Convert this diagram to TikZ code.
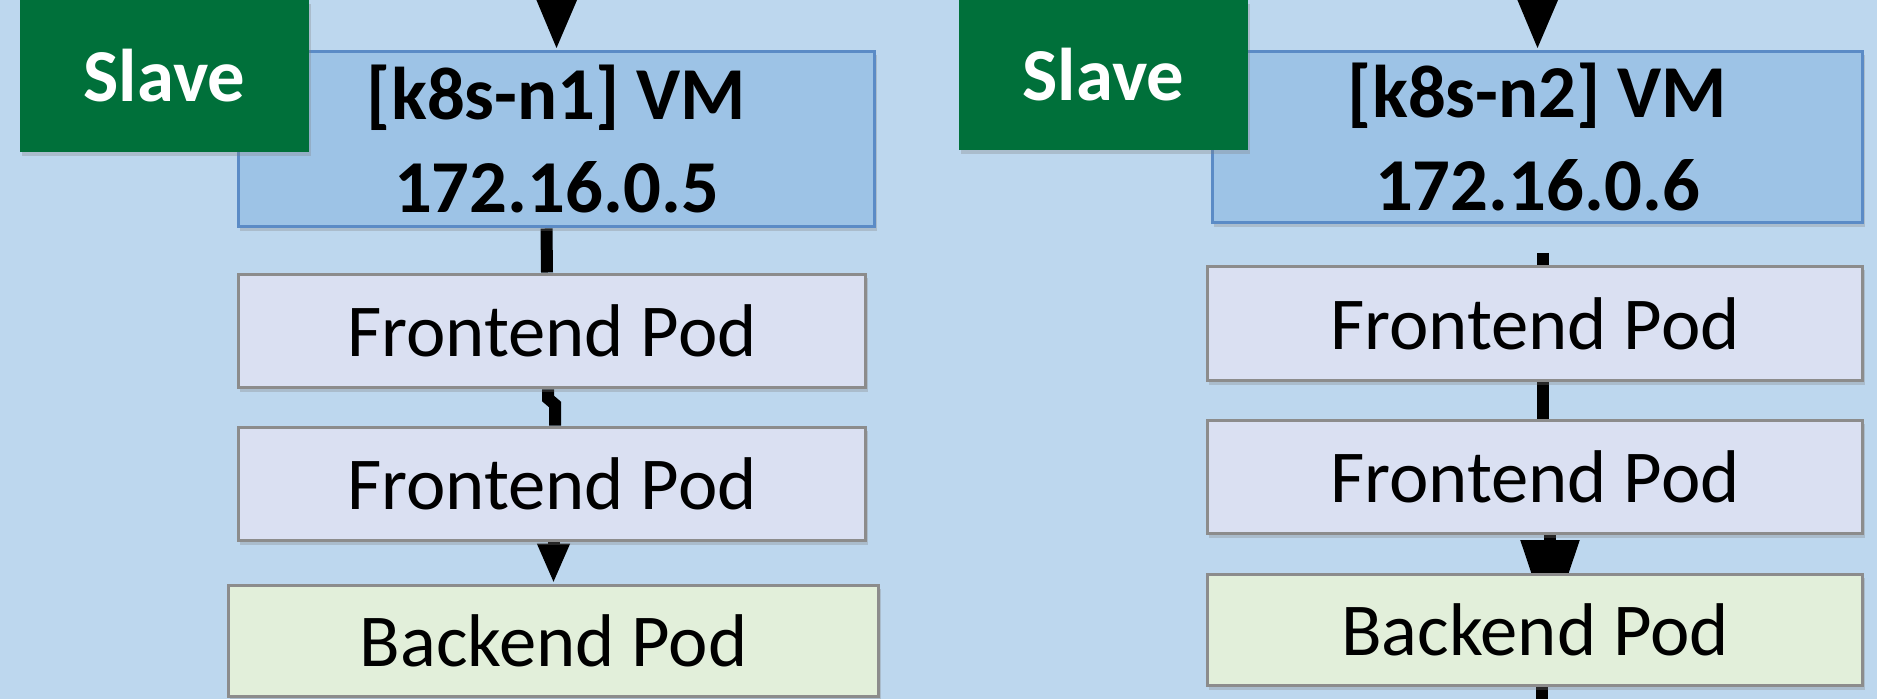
\documentclass[tikz,border=0pt]{standalone}
\usepackage{fontspec}
\setmainfont{Carlito}
\usepackage{tikz}
\usetikzlibrary{arrows.meta}
\usetikzlibrary{shadows}

\definecolor{bgblue}{HTML}{BDD7EE}
\definecolor{vmfill}{HTML}{9DC3E6}
\definecolor{vmline}{HTML}{5B8BC6}
\definecolor{frontfill}{HTML}{DAE0F2}
\definecolor{backfill}{HTML}{E2EFDA}
\definecolor{podline}{HTML}{8C8C8C}
\definecolor{slavegreen}{HTML}{00703A}

\pgfdeclarelayer{bg}
\pgfsetlayers{bg,main}

\begin{document}
\begin{tikzpicture}[
	  x=0.02cm, y=-0.02cm,
	  every node/.style = {shape=rectangle, draw, align=center, inner sep=0pt, line width=0.06cm, font=\fontsize{42.5}{52}\selectfont, drop shadow={shadow xshift=1pt, shadow yshift=-2.5pt, opacity=0.3}},
	  vmbox/.style={fill=vmfill, draw=vmline, font=\fontsize{42.5}{53}\selectfont\bfseries},
	  frontbox/.style={fill=frontfill, draw=podline, minimum width=12.56cm, minimum height=2.28cm},
	  backbox/.style={fill=backfill, draw=podline, minimum height=2.24cm},
	  slavebox/.style={fill=slavegreen, draw=none, text=white, minimum width=5.78cm, font=\fontsize{42.5}{52}\selectfont\bfseries},
	  link/.style={draw=black, line width=0.24cm}
	]
	\useasboundingbox (0,0) rectangle (1877,699);

	\node[vmbox, minimum width=12.74cm, minimum height=3.52cm] (lvm) at (556.5,139) {[k8s-n1] VM\\172.16.0.5};
	\node[slavebox, minimum height=3.04cm] (lslave) at (164.5,76) {Slave};
	\node[frontbox] (lfe1) at (552,331) {Frontend Pod};
	\node[frontbox] (lfe2) at (552,484) {Frontend Pod};
	\node[backbox, minimum width=13.02cm] (lbe) at (553.5,641) {Backend Pod};

	\node[vmbox, minimum width=13.02cm, minimum height=3.44cm] (rvm) at (1537.5,137) {[k8s-n2] VM\\172.16.0.6};
	\node[slavebox, minimum height=3cm] (rslave) at (1103.5,75) {Slave};
	\node[frontbox, minimum width=13.12cm, minimum height=2.3cm] (rfe1) at (1535,323.5) {Frontend Pod};
	\node[frontbox, minimum width=13.12cm] (rfe2) at (1535,477) {Frontend Pod};
	\node[backbox, minimum width=13.12cm] (rbe) at (1535,630) {Backend Pod};

	\coordinate (lin) at (557,-80);
	\coordinate (rin) at (1538,-80);
	\coordinate (rgap) at (1543,253);
	\coordinate (rout) at (1542,740);

	\begin{pgfonlayer}{bg}
	  \fill[bgblue] (0,0) rectangle (1877,699);
	  \draw[link, -{Triangle[width=0.88cm, length=1.16cm]}] (lin) -- (lvm.north);
	  \draw[link] ([shift={(-10,0)}]lvm.south) -- ([shift={(-5,0)}]lfe1.north);
	  \draw[link] ([shift={(-4,0)}]lfe1.south) -- ++(0,9) -- ++(7,6) -- ([shift={(3,0)}]lfe2.north);
	  \draw[link, -{Triangle[width=0.6cm, length=0.8cm]}] (lbe.north |- lfe2.south) -- (lbe.north);

	  \draw[link, -{Triangle[width=0.88cm, length=1.16cm]}] (rin) -- (rvm.north);
	  \draw[link] (rgap) -- ([shift={(8,0)}]rfe1.north);
	  \draw[link] ([shift={(8,0)}]rfe1.south) -- ([shift={(8,0)}]rfe2.north);
	  \draw[link, -{Triangle[width=1.12cm, length=1.8cm]}] ([shift={(15,0)}]rfe2.south) -- ([shift={(15,0)}]rbe.center);
	  \draw[link] ([shift={(7,0)}]rbe.south) -- (rout);
	\end{pgfonlayer}
\end{tikzpicture}
\end{document}
